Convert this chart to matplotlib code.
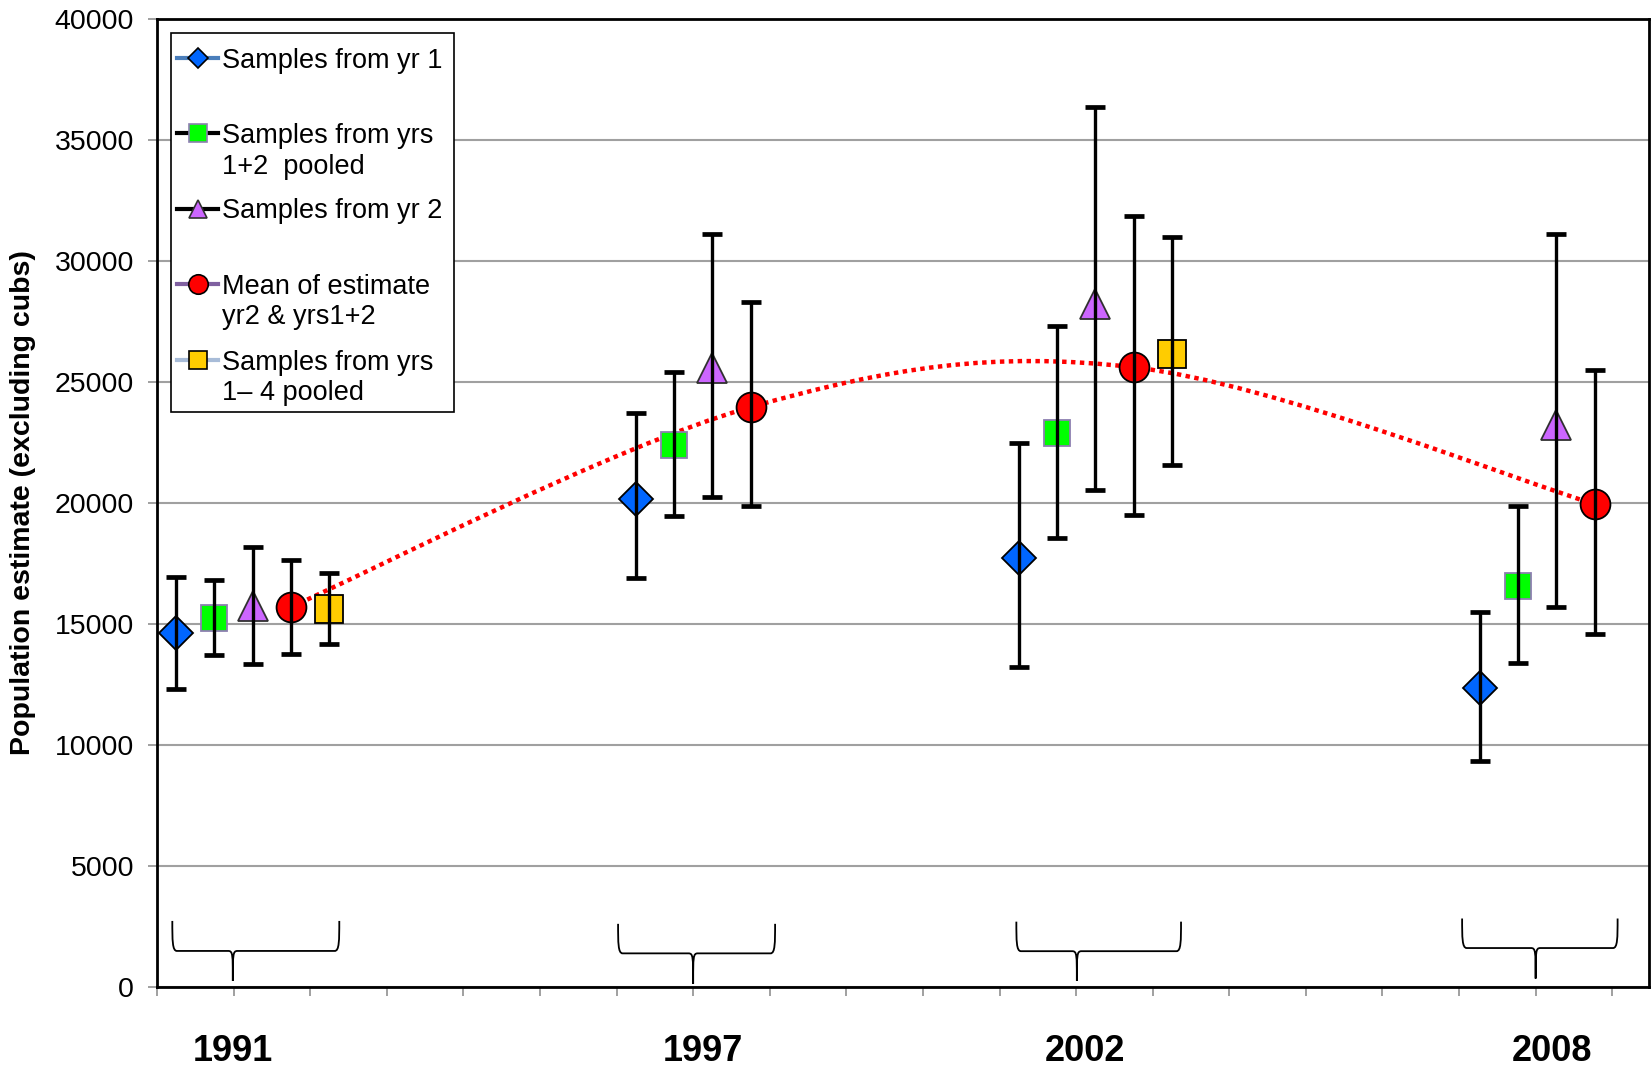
import numpy as np
import matplotlib
matplotlib.use("Agg")
import matplotlib.pyplot as plt
from matplotlib.path import Path
from matplotlib.patches import PathPatch, Rectangle
from matplotlib.lines import Line2D

plt.rcParams["font.family"] = ["Liberation Sans", "DejaVu Sans"]

# group start positions on the x axis (one unit = one minor tick)
years = ["1991", "1997", "2002", "2008"]
year_label_x = [0.99, 7.13, 12.11, 18.22]
group_x = np.array([0.25, 6.25, 11.25, 17.27])

# estimates with lower / upper confidence limits
yr1_est = [14620, 20170, 17740, 12350]
yr1_lo = [12300, 16910, 13220, 9350]
yr1_hi = [16930, 23700, 22480, 15480]

yrs12_est = [15260, 22390, 22910, 16570]
yrs12_lo = [13720, 19480, 18570, 13390]
yrs12_hi = [16810, 25430, 27320, 19870]

yr2_est = [15750, 25570, 28240, 23240]
yr2_lo = [13350, 20260, 20520, 15700]
yr2_hi = [18190, 31130, 36370, 31130]

mean_est = [15710, 23960, 25610, 19960]
mean_lo = [13750, 19870, 19520, 14570]
mean_hi = [17630, 28300, 31860, 25500]

yrs14_x_idx = [0, 2]
yrs14_est = [15630, 26150]
yrs14_lo = [14160, 21570]
yrs14_hi = [17090, 31000]

# braces under each year group: left, right, tip, arm top, bar, tip bottom
brace_l = [0.20, 6.02, 11.22, 17.04]
brace_r = [2.38, 8.07, 13.37, 19.07]
brace_t = [0.99, 7.00, 12.01, 18.00]
brace_top = [2730, 2610, 2700, 2830]
brace_bar = [1490, 1390, 1480, 1610]
brace_bot = [250, 130, 260, 350]

W, H = 1652, 1068
fig = plt.figure(figsize=(W / 100, H / 100), dpi=100)
ax = fig.add_axes([157 / W, 1 - 987 / H, (1649 - 157) / W, (987 - 19) / H])

ax.set_xlim(0, 19.48)
ax.set_ylim(0, 40000)
ax.set_yticks(np.arange(0, 40001, 5000))
ax.set_xticks(np.arange(0, 20))
ax.set_xticklabels([])
ax.tick_params(axis="y", labelsize=20.5, color="#909090", length=6.5, width=1.2, pad=10)
ax.tick_params(axis="x", color="#909090", length=6.5, width=1.2)
ax.yaxis.grid(True, color="#a0a0a0", linewidth=1.5)
ax.set_axisbelow(True)
for s in ax.spines.values():
    s.set_linewidth(2)
    s.set_color("black")


def series(xs, est, lo, hi, marker, ms, fc, ec):
    est = np.array(est)
    yerr = [est - np.array(lo), np.array(hi) - est]
    ax.plot(xs, est, linestyle="none", marker=marker, markersize=ms,
            markerfacecolor=fc, markeredgecolor=ec, markeredgewidth=1.3, zorder=3)
    ax.errorbar(xs, est, yerr=yerr, fmt="none", ecolor="black",
                elinewidth=2.4, capsize=7.5, capthick=3.4, zorder=4)


# smooth dotted line through the means (bezier, excel-like smoothing)
mx = group_x + 1.5
my = np.array(mean_est, dtype=float)
verts = [(mx[0], my[0])]
codes = [Path.MOVETO]
n = len(mx)
for i in range(n - 1):
    p0 = np.array([mx[max(i - 1, 0)], my[max(i - 1, 0)]])
    p1 = np.array([mx[i], my[i]])
    p2 = np.array([mx[i + 1], my[i + 1]])
    p3 = np.array([mx[min(i + 2, n - 1)], my[min(i + 2, n - 1)]])
    c1 = p1 + (p2 - p0) / 6
    c2 = p2 - (p3 - p1) / 6
    verts += [tuple(c1), tuple(c2), tuple(p2)]
    codes += [Path.CURVE4] * 3
ax.add_patch(PathPatch(Path(verts, codes), facecolor="none", edgecolor="#ff0000",
                       linewidth=3.2, linestyle=(0, (1, 1)), capstyle="butt", zorder=2))

series(group_x, yr1_est, yr1_lo, yr1_hi, "D", 17.5, "#0066ff", "black")
series(group_x + 0.5, yrs12_est, yrs12_lo, yrs12_hi, "s", 18.5, "#00ff00", "#8c7fb0")
series(group_x + 1.0, yr2_est, yr2_lo, yr2_hi, "^", 21.5, "#cc66ff", "#303030")
series(group_x + 1.5, mean_est, mean_lo, mean_hi, "o", 21.5, "#ff0000", "black")
series(group_x[yrs14_x_idx] + 2.0, yrs14_est, yrs14_lo, yrs14_hi, "s", 19.5, "#ffcc00", "black")

# braces
for xl, xr, xt, yt, yh, yb in zip(brace_l, brace_r, brace_t, brace_top, brace_bar, brace_bot):
    c = 0.06
    v = [(xl, yt), (xl, yh + 0.35 * (yt - yh)), (xl, yh), (xl + c, yh),
         (xt - c, yh),
         (xt, yh), (xt, yh - 150), (xt, yb),
         (xt, yh - 150), (xt, yh), (xt + c, yh),
         (xr - c, yh),
         (xr, yh), (xr, yh + 0.35 * (yt - yh)), (xr, yt)]
    cd = [Path.MOVETO, Path.CURVE4, Path.CURVE4, Path.CURVE4,
          Path.LINETO,
          Path.CURVE4, Path.CURVE4, Path.CURVE4,
          Path.CURVE4, Path.CURVE4, Path.CURVE4,
          Path.LINETO,
          Path.CURVE4, Path.CURVE4, Path.CURVE4]
    ax.add_patch(PathPatch(Path(v, cd), facecolor="none", edgecolor="black",
                           linewidth=1.3, zorder=2))

# year labels under the axis
for x, lab in zip(year_label_x, years):
    ax.text(x, -0.067, lab, transform=ax.get_xaxis_transform(), ha="center",
            va="center", fontsize=26, fontweight="bold")

fig.text(23 / W, 1 - 503 / H, "Population estimate (excluding cubs)", rotation=90,
         ha="center", va="center", fontsize=20.5, fontweight="bold")

# legend drawn by hand to match the original layout
leg_labels = ["Samples from yr 1", "Samples from yrs\n1+2  pooled", "Samples from yr 2",
              "Mean of estimate\nyr2 & yrs1+2", "Samples from yrs\n1\u2013 4 pooled"]
leg_line = ["#4a7ebb", "black", "black", "#7f60a0", "#a8bcd8"]
leg_marker = ["D", "s", "^", "o", "s"]
leg_ms = [10, 12.5, 13, 14, 12.5]
leg_fc = ["#0066ff", "#00ff00", "#cc66ff", "#ff0000", "#ffcc00"]
leg_ec = ["black", "#8c7fb0", "#303030", "black", "black"]

fig.patches.append(Rectangle((170.7 / W, 1 - 411.7 / H), (454.3 - 170.7) / W, (411.7 - 33.3) / H,
                             transform=fig.transFigure, facecolor="white", edgecolor="black",
                             linewidth=1.2, zorder=5))
for i, lab in enumerate(leg_labels):
    yp = 57.5 + 75.5 * i
    fy = 1 - yp / H
    fig.add_artist(Line2D([176.7 / W, 218.3 / W], [fy, fy], transform=fig.transFigure,
                          color=leg_line[i], linewidth=3, zorder=6))
    fig.add_artist(Line2D([197.5 / W], [fy], transform=fig.transFigure, marker=leg_marker[i],
                          markersize=leg_ms[i], markerfacecolor=leg_fc[i],
                          markeredgecolor=leg_ec[i], markeredgewidth=1.2, zorder=7))
    for j, line in enumerate(lab.split("\n")):
        fig.text(221.7 / W, 1 - (yp + 30.5 * j) / H, line, ha="left", va="center_baseline",
                 fontsize=19.5, zorder=8)

fig.savefig("out.png", dpi=100)
